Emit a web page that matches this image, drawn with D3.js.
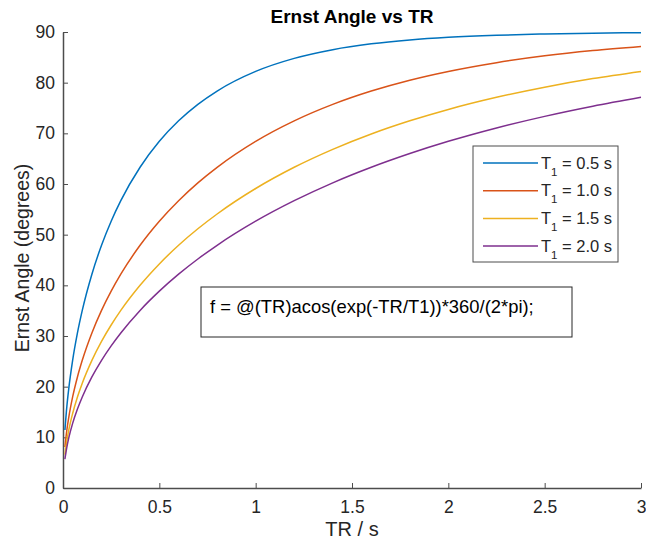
<!DOCTYPE html>
<html>
<head>
<meta charset="utf-8">
<script src="https://cdn.jsdelivr.net/npm/d3@7"></script>
<style>
body { margin: 0; background: #fff; }
text { font-family: "Liberation Sans", Arial, Helvetica, sans-serif; }
</style>
</head>
<body>
<div id="chart"></div>
<script>
// values
var tr = [0.01, 0.02, 0.03, 0.05, 0.075, 0.1, 0.15, 0.2, 0.25, 0.3, 0.4, 0.5, 0.6, 0.7, 0.8,
	1.0, 1.2, 1.4, 1.6, 1.8, 2.0, 2.25, 2.5, 2.75, 3.0]
var angleT05 = [11.45, 16.10, 19.65, 25.20, 30.60, 35.05, 42.20, 47.91, 52.66, 56.71, 63.30, 68.42, 72.47, 75.72, 78.35,
	82.22, 84.79, 86.51, 87.66, 88.43, 88.95, 89.36, 89.61, 89.77, 89.86]
var angleT10 = [8.09, 11.45, 13.96, 17.97, 21.92, 25.20, 30.60, 35.05, 38.85, 42.20, 47.91, 52.66, 56.71, 60.23, 63.30,
	68.42, 72.47, 75.72, 78.35, 80.49, 82.22, 83.95, 85.29, 86.33, 87.15]
var angleT15 = [6.61, 9.34, 11.45, 14.71, 17.97, 20.69, 25.20, 28.94, 32.17, 35.05, 40.01, 44.23, 47.91, 51.16, 54.08,
	59.11, 63.30, 66.84, 69.87, 72.47, 74.72, 77.11, 79.11, 80.80, 82.22]
var angleT20 = [5.72, 8.09, 9.90, 12.76, 15.59, 17.97, 21.92, 25.20, 28.05, 30.60, 35.05, 38.85, 42.20, 45.20, 47.91,
	52.66, 56.71, 60.23, 63.30, 66.01, 68.42, 71.06, 73.35, 75.35, 77.11]
var seriesNames = ["0.5", "1.0", "1.5", "2.0"]
var seriesColors = ["#0072BD", "#D95319", "#EDB120", "#7E2F8E"]
var xTicks = [0, 0.5, 1, 1.5, 2, 2.5, 3]
var yTicks = [0, 10, 20, 30, 40, 50, 60, 70, 80, 90]

var series = [angleT05, angleT10, angleT15, angleT20].map(function(vals, i) {
	return { name: seriesNames[i], color: seriesColors[i], values: vals.map(function(v, j) { return { x: tr[j], y: v } }) }
})

var W = 646, H = 541
var m = { left: 63, right: 5, top: 32, bottom: 53 }
var axisColor = "#4d4d4d", textColor = "#262626"

var svg = d3.select("#chart").append("svg").attr("width", W).attr("height", H)

var x = d3.scaleLinear().domain([0, 3]).range([m.left, W - m.right])
var y = d3.scaleLinear().domain([0, 90]).range([H - m.bottom, m.top])

// axes
var xAxis = svg.append("g").attr("transform", "translate(0," + y(0) + ")")
	.call(d3.axisBottom(x).tickValues(xTicks).tickSizeInner(-5).tickSizeOuter(0).tickPadding(13).tickFormat(d3.format("")))
var yAxis = svg.append("g").attr("transform", "translate(" + x(0) + ",0)")
	.call(d3.axisLeft(y).tickValues(yTicks).tickSizeInner(-5).tickSizeOuter(0).tickPadding(8))

;[xAxis, yAxis].forEach(function(a) {
	a.select(".domain").attr("stroke", axisColor).attr("stroke-width", 1.5)
	a.selectAll(".tick line").attr("stroke", axisColor).attr("stroke-width", 1)
	a.selectAll(".tick text").attr("fill", textColor).style("font-size", "17.5px")
		.style("font-family", '"Liberation Sans", Arial, sans-serif')
})

// lines
var line = d3.line().x(function(d) { return x(d.x) }).y(function(d) { return y(d.y) }).curve(d3.curveMonotoneX)
svg.selectAll(".series").data(series).enter().append("path")
	.attr("class", "series")
	.attr("d", function(d) { return line(d.values) })
	.attr("fill", "none")
	.attr("stroke", function(d) { return d.color })
	.attr("stroke-width", 1.5)

// title and labels
svg.append("text").attr("x", (x(0) + x(3)) / 2).attr("y", 23).attr("text-anchor", "middle")
	.style("font-size", "19px").style("font-weight", "bold").attr("fill", "#000").text("Ernst Angle vs TR")
svg.append("text").attr("x", (x(0) + x(3)) / 2).attr("y", 536).attr("text-anchor", "middle")
	.style("font-size", "20px").attr("fill", textColor).text("TR / s")
svg.append("text").attr("transform", "translate(29," + (y(45) - 2) + ") rotate(-90)").attr("text-anchor", "middle")
	.style("font-size", "19.5px").attr("fill", textColor).text("Ernst Angle (degrees)")

// legend
var leg = svg.append("g")
leg.append("rect").attr("x", 473).attr("y", 146).attr("width", 145).attr("height", 116)
	.attr("fill", "#fff").attr("stroke", axisColor).attr("stroke-width", 1)
var items = leg.selectAll(".item").data(series).enter().append("g")
	.attr("transform", function(d, i) { return "translate(0," + (163 + i * 27.7) + ")" })
items.append("line").attr("x1", 483).attr("x2", 538).attr("y1", 0).attr("y2", 0)
	.attr("stroke", function(d) { return d.color }).attr("stroke-width", 1.5)
var lt = items.append("text").attr("x", 541).attr("y", 5.5).style("font-size", "16.5px").attr("fill", textColor)
lt.append("tspan").text("T")
lt.append("tspan").attr("dy", 7).style("font-size", "11.5px").text("1")
lt.append("tspan").attr("dy", -7).text(function(d) { return " = " + d.name + " s" })

// annotation box
svg.append("rect").attr("x", 201).attr("y", 287).attr("width", 371).attr("height", 50)
	.attr("fill", "#fff").attr("stroke", "#262626").attr("stroke-width", 1)
svg.append("text").attr("x", 210).attr("y", 313).style("font-size", "18.4px").attr("fill", "#000")
	.text("f = @(TR)acos(exp(-TR/T1))*360/(2*pi);")
</script>
</body>
</html>
